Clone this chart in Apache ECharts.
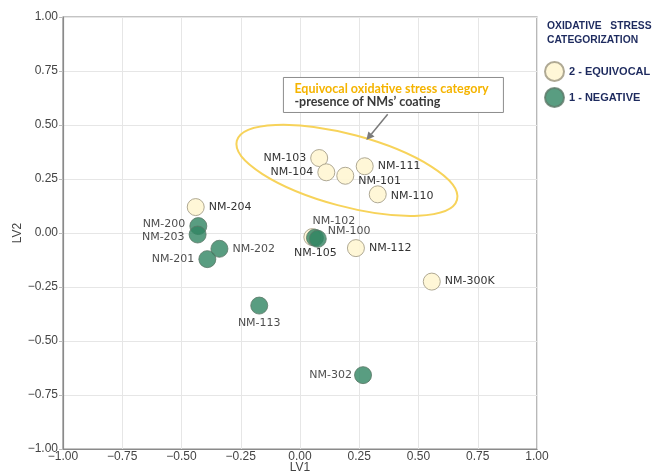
<!DOCTYPE html>
<html>
<head>
<meta charset="utf-8">
<script src="https://cdn.jsdelivr.net/npm/echarts@6/dist/echarts.min.js"></script>
<style>
  html, body { margin: 0; padding: 0; background: #fff; }
  #chart { width: 654px; height: 473px; }
</style>
</head>
<body>
<div id="chart"></div>
<script>
// PLS-DA score plot: LV1 vs LV2, coloured by oxidative stress category
const equivocalNames = ['NM-103', 'NM-104', 'NM-101', 'NM-111', 'NM-110', 'NM-204', 'NM-105', 'NM-112', 'NM-300K'];
const equivocalLV1   = [0.081, 0.111, 0.191, 0.273, 0.328, -0.440, 0.052, 0.236, 0.556];
const equivocalLV2   = [0.347, 0.281, 0.265, 0.309, 0.179, 0.120, -0.019, -0.070, -0.225];

const negativeNames = ['NM-200', 'NM-203', 'NM-202', 'NM-201', 'NM-102', 'NM-100', 'NM-113', 'NM-302'];
const negativeLV1   = [-0.429, -0.432, -0.340, -0.391, 0.063, 0.075, -0.172, 0.266];
const negativeLV2   = [0.032, -0.007, -0.073, -0.121, -0.022, -0.027, -0.336, -0.658];

const axisMin = -1, axisMax = 1, axisStep = 0.25;

// label placement for each sample name
const labelPlacement = {
  'NM-103': { position: 'left' },
  'NM-104': { position: 'left' },
  'NM-101': { position: 'right', offset: [0, 5] },
  'NM-111': { position: 'right' },
  'NM-110': { position: 'right', offset: [0, 2] },
  'NM-204': { position: 'right' },
  'NM-105': { position: 'bottom', distance: 2, offset: [3, 0] },
  'NM-112': { position: 'right' },
  'NM-300K': { position: 'right' },
  'NM-200': { position: 'left', offset: [0, -2] },
  'NM-203': { position: 'left', offset: [0, 3] },
  'NM-202': { position: 'right' },
  'NM-201': { position: 'left' },
  'NM-102': { position: 'top', distance: 2, offset: [19, 0] },
  'NM-100': { position: 'right', distance: 1, offset: [0, -8] },
  'NM-113': { position: 'bottom', distance: 3 },
  'NM-302': { position: 'left', distance: 2 }
};

function buildPoints(names, xs, ys) {
  return names.map((n, i) => ({
    name: n,
    value: [xs[i], ys[i]],
    label: Object.assign({ show: true }, labelPlacement[n])
  }));
}

const fmt = v => (v < 0 ? '\u2212' : '') + Math.abs(v).toFixed(2);

const labelFont = { fontFamily: 'DejaVu Sans', fontSize: 11, color: '#222', formatter: '{b}', distance: 4 };
const legendNavy = '#1d2a5e';

const chart = echarts.init(document.getElementById('chart'), null, { renderer: 'canvas' });

const option = {
  animation: false,
  backgroundColor: '#fff',
  grid: {
    left: 63, right: 117, top: 17, bottom: 24,
    outerBoundsMode: 'none', containLabel: false,
    show: true, borderColor: '#8a8a8a', borderWidth: 1.2, backgroundColor: 'transparent'
  },
  xAxis: {
    type: 'value', min: axisMin, max: axisMax, interval: axisStep,
    name: 'LV1', nameLocation: 'middle', nameGap: 13, nameMoveOverlap: false,
    nameTextStyle: { fontFamily: 'Liberation Sans', fontSize: 12, color: '#444' },
    axisLine: { show: true, onZero: false, lineStyle: { color: '#8a8a8a', width: 1.2 } },
    axisTick: { show: false },
    axisLabel: { formatter: fmt, fontFamily: 'Liberation Sans', fontSize: 12, color: '#444', margin: 2 },
    splitLine: { show: true, lineStyle: { color: '#e6e6e6', width: 1 } }
  },
  yAxis: {
    type: 'value', min: axisMin, max: axisMax, interval: axisStep,
    name: 'LV2', nameLocation: 'middle', nameGap: 39, nameMoveOverlap: false,
    nameTextStyle: { fontFamily: 'Liberation Sans', fontSize: 12, color: '#444' },
    axisLine: { show: true, onZero: false, lineStyle: { color: '#8a8a8a', width: 1.2 } },
    axisTick: { show: true, length: 4, lineStyle: { color: '#bbb' } },
    axisLabel: { formatter: fmt, fontFamily: 'Liberation Sans', fontSize: 12, color: '#444', margin: 5 },
    splitLine: { show: true, lineStyle: { color: '#e6e6e6', width: 1 } }
  },
  legend: {
    orient: 'vertical', left: 539, top: 56,
    itemWidth: 19, itemHeight: 19, itemGap: 5, icon: 'circle',
    textStyle: { fontFamily: 'Liberation Sans', fontWeight: 'bold', fontSize: 11, color: legendNavy },
    data: ['2 - EQUIVOCAL', '1 - NEGATIVE']
  },
  series: [
    {
      name: '2 - EQUIVOCAL', type: 'scatter', symbol: 'circle', symbolSize: 17, z: 3,
      itemStyle: { color: '#fff6d4', borderColor: '#a8a28c', borderWidth: 1, opacity: 0.92 },
      label: labelFont,
      data: buildPoints(equivocalNames, equivocalLV1, equivocalLV2)
    },
    {
      name: '1 - NEGATIVE', type: 'scatter', symbol: 'circle', symbolSize: 17, z: 4,
      itemStyle: { color: '#2f8461', borderColor: '#5c7868', borderWidth: 1, opacity: 0.8 },
      label: labelFont,
      data: buildPoints(negativeNames, negativeLV1, negativeLV2)
    }
  ]
};
chart.setOption(option);

// annotation: ellipse around the coated equivocal group, callout box and arrow
const c = chart.convertToPixel({ gridIndex: 0 }, [0.198, 0.29]);
const boxTL = chart.convertToPixel({ gridIndex: 0 }, [-0.07, 0.72]);
const arrowFrom = chart.convertToPixel({ gridIndex: 0 }, [0.37, 0.55]);
const arrowTo = chart.convertToPixel({ gridIndex: 0 }, [0.28, 0.43]);
const ang = Math.atan2(arrowTo[1] - arrowFrom[1], arrowTo[0] - arrowFrom[0]);
const ah = 8, aw = 4;
const tip = arrowTo;
const baseX = tip[0] - ah * Math.cos(ang), baseY = tip[1] - ah * Math.sin(ang);
const head = [
  tip,
  [baseX + aw * Math.sin(ang), baseY - aw * Math.cos(ang)],
  [baseX - aw * Math.sin(ang), baseY + aw * Math.cos(ang)]
];

chart.setOption({
  graphic: [
    {
      type: 'ellipse', z: 10,
      shape: { cx: 0, cy: 0, rx: 114, ry: 36 },
      x: c[0], y: c[1], rotation: -15 * Math.PI / 180,
      style: { fill: 'none', stroke: '#f7d35a', lineWidth: 2 }
    },
    {
      type: 'rect', z: 10,
      shape: { x: boxTL[0], y: boxTL[1], width: 220, height: 35 },
      style: { fill: '#fff', stroke: '#8c8c8c', lineWidth: 1 }
    },
    {
      type: 'text', z: 11, x: boxTL[0] + 11, y: boxTL[1] + 11,
      style: { text: 'Equivocal oxidative stress category', fill: '#f5b400', font: 'bold 12.5px Lato', verticalAlign: 'middle' }
    },
    {
      type: 'text', z: 11, x: boxTL[0] + 11, y: boxTL[1] + 24.5,
      style: { text: '-presence of NMs\u2019 coating', fill: '#3a3a3a', font: 'bold 12.5px Lato', verticalAlign: 'middle' }
    },
    {
      type: 'line', z: 10,
      shape: { x1: arrowFrom[0], y1: arrowFrom[1], x2: baseX, y2: baseY },
      style: { stroke: '#7a7a7a', lineWidth: 1.5 }
    },
    {
      type: 'polygon', z: 10,
      shape: { points: head },
      style: { fill: '#7a7a7a' }
    },
    {
      type: 'text', z: 11, left: 547, top: 19,
      style: { text: 'OXIDATIVE   STRESS\nCATEGORIZATION', fill: legendNavy, font: 'bold 10.3px Liberation Sans', lineHeight: 14 }
    }
  ]
});
</script>
</body>
</html>
